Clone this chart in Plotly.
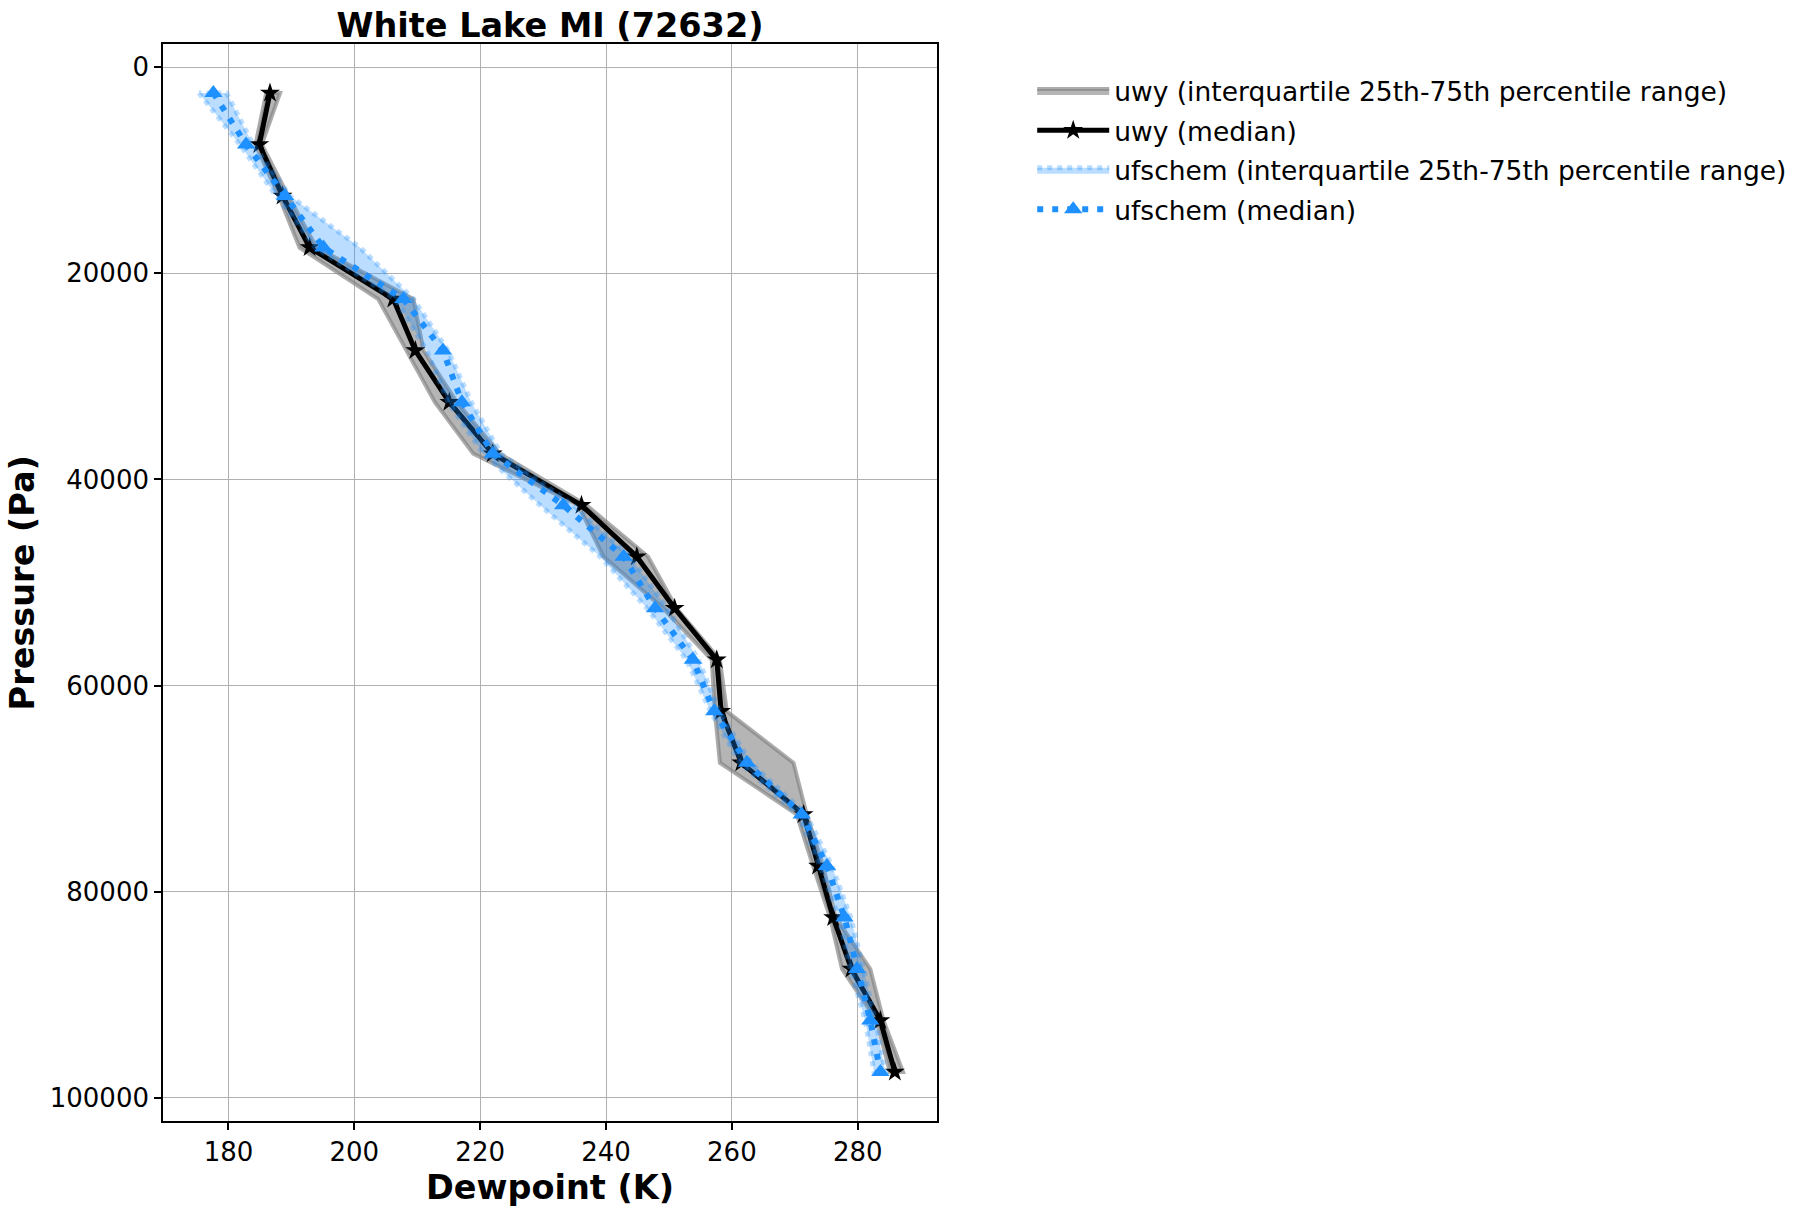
import plotly.graph_objects as go

# Pressure levels (Pa)
pressure = [2500, 7500, 12500, 17500, 22500, 27500, 32500, 37500, 42500, 47500,
            52500, 57500, 62500, 67500, 72500, 77500, 82500, 87500, 92500, 97500]

# uwy dewpoint (K)
uwy_median = [186.6, 184.9, 188.6, 192.9, 206.2, 209.7, 215.1, 222.0, 236.1, 244.9,
              250.9, 257.6, 258.3, 261.5, 271.4, 273.7, 276.1, 279.0, 283.6, 285.9]
uwy_p25 = [186.0, 184.3, 188.0, 191.3, 203.8, 208.3, 212.8, 218.9, 235.6, 239.6,
           249.1, 256.8, 257.3, 258.1, 270.3, 272.9, 275.6, 277.5, 283.0, 285.1]
uwy_p75 = [188.2, 185.3, 189.5, 194.0, 209.4, 211.0, 216.3, 223.1, 236.9, 246.7,
           251.2, 258.1, 259.2, 269.8, 271.9, 274.5, 276.5, 282.0, 284.1, 287.2]

# ufschem dewpoint (K)
uf_median = [177.6, 182.8, 189.0, 195.1, 207.8, 214.1, 217.1, 222.0, 233.2, 242.8,
             247.8, 253.8, 257.2, 262.4, 271.1, 275.1, 277.9, 279.9, 282.0, 283.6]
uf_p25 = [175.3, 181.8, 187.6, 193.8, 206.5, 211.5, 214.9, 220.5, 229.5, 239.1,
          246.5, 252.8, 256.6, 261.3, 270.5, 274.0, 277.0, 278.8, 281.2, 282.6]
uf_p75 = [179.7, 183.9, 189.8, 200.9, 209.4, 214.9, 218.6, 223.3, 234.8, 243.8,
          249.7, 254.7, 258.0, 263.0, 271.8, 275.9, 278.9, 280.9, 282.8, 284.4]

x_ticks = [180, 200, 220, 240, 260, 280]
y_ticks = [0, 20000, 40000, 60000, 80000, 100000]

FONT = "DejaVu Sans"

def band(lo, hi):
    return list(lo) + list(hi)[::-1] + [lo[0]], list(pressure) + list(pressure)[::-1] + [pressure[0]]

fig = go.Figure()

bx, by = band(uwy_p25, uwy_p75)
fig.add_trace(go.Scatter(
    x=bx, y=by, mode="lines", fill="toself",
    fillcolor="rgba(128,128,128,0.58)",
    line=dict(color="rgba(128,128,128,0.65)", width=4),
    legendgroup="g1",
    name="uwy (interquartile 25th-75th percentile range)"))

fig.add_trace(go.Scatter(
    x=uwy_median, y=pressure, mode="lines+markers",
    line=dict(color="black", width=5),
    marker=dict(symbol="star", size=15, color="black"),
    legendgroup="g2",
    name="uwy (median)"))

bx, by = band(uf_p25, uf_p75)
fig.add_trace(go.Scatter(
    x=bx, y=by, mode="lines", fill="toself",
    fillcolor="rgba(30,144,255,0.3)",
    line=dict(color="rgba(30,144,255,0.3)", width=5, dash="5px,5px"),
    legendgroup="g3",
    name="ufschem (interquartile 25th-75th percentile range)"))

fig.add_trace(go.Scatter(
    x=uf_median, y=pressure, mode="lines+markers",
    line=dict(color="#1E90FF", width=6, dash="6px,9px"),
    marker=dict(symbol="triangle-up", size=16, color="#1E90FF"),
    legendgroup="g4",
    name="ufschem (median)"))

axis_common = dict(
    showline=True, linecolor="black", linewidth=1.6, mirror=True,
    ticks="outside", ticklen=7, tickwidth=1.6, tickcolor="black",
    showgrid=True, gridcolor="#b0b0b0", gridwidth=1,
    zeroline=False,
    tickfont=dict(family=FONT, size=26, color="black"),
)

fig.update_xaxes(range=[169.6, 292.6], tickvals=x_ticks, **axis_common)
fig.update_yaxes(range=[102250, -2250], tickvals=y_ticks, tickformat="d", **axis_common)

title_font = dict(family=FONT, size=33.5, color="black")
fig.add_annotation(text="<b>Dewpoint (K)</b>", xref="paper", yref="paper",
                   x=0.5, y=-0.062, xanchor="center", yanchor="middle",
                   showarrow=False, font=title_font)
fig.add_annotation(text="<b>Pressure (Pa)</b>", xref="paper", yref="paper",
                   x=-0.181, y=0.5, xanchor="center", yanchor="middle", textangle=-90,
                   showarrow=False, font=title_font)

fig.update_layout(
    width=1810, height=1208,
    margin=dict(l=163, r=873, t=44, b=87),
    plot_bgcolor="white", paper_bgcolor="white",
    font=dict(family=FONT, color="black"),
    title=dict(text="<b>White Lake MI (72632)</b>", font=title_font,
               x=0.5, xref="paper", xanchor="center", y=1 - 25 / 1208, yref="container", yanchor="middle"),
    legend=dict(x=1.123, y=0.9785, xanchor="left", yanchor="top",
                font=dict(family=FONT, size=26.5, color="black"),
                bgcolor="rgba(0,0,0,0)", itemwidth=72, tracegroupgap=2),
    showlegend=True,
)

fig.write_html("out.html")
